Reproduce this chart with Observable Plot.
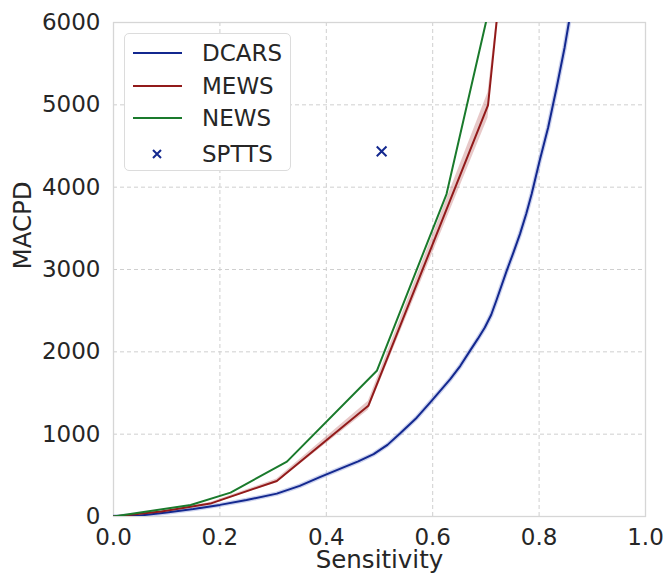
<!DOCTYPE html>
<html>
<head>
<meta charset="utf-8">
<script src="https://cdn.jsdelivr.net/npm/d3@7"></script>
<script src="https://cdn.jsdelivr.net/npm/@observablehq/plot@0.6"></script>
<style>
  body { margin: 0; background: #fff; font-family: "DejaVu Sans", sans-serif; }
  #wrap { position: relative; width: 665px; height: 573px; }
  #legend { position: absolute; left: 124px; top: 33px; width: 167px; height: 138px;
    border: 1px solid #dcdcdc; border-radius: 5px; background: #fff; box-sizing: border-box; }
  .row { position: absolute; left: 0; height: 30px; }
  .row span { position: absolute; left: 77px; top: 0; font-size: 23px; color: #262626; white-space: nowrap; line-height: 30px; }
  .row svg { position: absolute; left: 8px; top: 0; }
</style>
</head>
<body>
<div id="wrap"><div id="chart"></div><div id="legend"></div></div>
<script>
// ---- data ----
const dcarsX = [0, 0.05, 0.10, 0.15, 0.20, 0.25, 0.307, 0.35, 0.389, 0.43, 0.46, 0.489, 0.515, 0.539, 0.57, 0.595, 0.612, 0.633, 0.652, 0.670, 0.685, 0.698, 0.71, 0.72, 0.739, 0.752, 0.764, 0.776, 0.786, 0.801, 0.817, 0.833, 0.848, 0.856, 0.87];
const dcarsY = [0, 12, 48, 90, 141, 200, 278, 372, 481, 590, 670, 757, 870, 1010, 1200, 1384, 1510, 1668, 1830, 2012, 2160, 2295, 2450, 2630, 2984, 3210, 3430, 3680, 3916, 4320, 4725, 5211, 5697, 6000, 6500];

const mewsX = [0, 0.09, 0.182, 0.307, 0.479, 0.704, 0.72, 0.74];
const mewsY = [0, 60, 157, 432, 1344, 4997, 6000, 7300];
const mewsLo = [0, 52, 145, 410, 1290, 4840, 5950, 7250];
const mewsHi = [0, 68, 170, 455, 1400, 5150, 6050, 7350];

const newsX = [0, 0.145, 0.22, 0.326, 0.495, 0.626, 0.70, 0.72];
const newsY = [0, 140, 290, 667, 1770, 3916, 6000, 6560];

const spttsX = [0.504];
const spttsY = [4434];

const xTicks = [0, 0.2, 0.4, 0.6, 0.8, 1.0];
const yTicks = [0, 1000, 2000, 3000, 4000, 5000, 6000];
const xLabel = "Sensitivity";
const yLabel = "MACPD";

const series = [
  {name: "DCARS", color: "#13288f"},
  {name: "MEWS", color: "#921a1a"},
  {name: "NEWS", color: "#1a7a2c"}
];
const spttsName = "SPTTS";
const spttsColor = "#13288f";

// ---- build tables ----
const dcars = dcarsX.map((x, i) => ({x, y: dcarsY[i]}));
const mews = mewsX.map((x, i) => ({x, y: mewsY[i], lo: mewsLo[i], hi: mewsHi[i]}));
const news = newsX.map((x, i) => ({x, y: newsY[i]}));
const sptts = spttsX.map((x, i) => ({x, y: spttsY[i]}));

const chart = Plot.plot({
  width: 665,
  height: 573,
  marginLeft: 113,
  marginRight: 20,
  marginTop: 22,
  marginBottom: 57,
  style: {fontFamily: "DejaVu Sans", fontSize: "23px", color: "#262626", background: "#fff"},
  x: {domain: [0, 1]},
  y: {domain: [0, 6000]},
  marks: [
    Plot.gridX(xTicks, {stroke: "#cfcfcf", strokeOpacity: 1, strokeDasharray: "4,3"}),
    Plot.gridY(yTicks, {stroke: "#cfcfcf", strokeOpacity: 1, strokeDasharray: "4,3"}),
    Plot.frame({stroke: "#d6d6d6", strokeWidth: 1.3}),
    Plot.axisX(xTicks, {tickSize: 0, tickPadding: 12, tickFormat: d3.format(".1f"), label: null}),
    Plot.axisY(yTicks, {tickSize: 0, tickPadding: 13, tickFormat: d => String(d), label: null}),
    Plot.text([xLabel], {frameAnchor: "bottom", text: d => d, dy: 44, lineAnchor: "middle", fontSize: 24.5, fill: "#262626"}),
    Plot.text([yLabel], {frameAnchor: "left", text: d => d, dx: -90, rotate: -90, lineAnchor: "middle", fontSize: 24.5, fill: "#262626"}),
    Plot.areaY(mews, {x: "x", y1: "lo", y2: "hi", fill: "#c98585", fillOpacity: 0.45, clip: true}),
    Plot.line(dcars, {x: "x", y: "y", stroke: "#9aa6dd", strokeWidth: 4.5, strokeOpacity: 0.5, clip: true}),
    Plot.line(dcars, {x: "x", y: "y", stroke: series[0].color, strokeWidth: 2, clip: true}),
    Plot.line(mews, {x: "x", y: "y", stroke: series[1].color, strokeWidth: 2, clip: true}),
    Plot.line(news, {x: "x", y: "y", stroke: series[2].color, strokeWidth: 2, clip: true}),
    Plot.dot(sptts, {x: "x", y: "y", symbol: "times", r: 4.5, stroke: spttsColor, strokeWidth: 2})
  ]
});
document.getElementById("chart").appendChild(chart);

// ---- legend ----
const legend = document.getElementById("legend");
const rowTops = [4, 37, 69, 105];
series.forEach((s, i) => {
  const row = document.createElement("div");
  row.className = "row";
  row.style.top = rowTops[i] + "px";
  row.innerHTML = `<svg width="52" height="30"><line x1="0" x2="49" y1="15" y2="15" stroke="${s.color}" stroke-width="2"/></svg><span>${s.name}</span>`;
  legend.appendChild(row);
});
const r = document.createElement("div");
r.className = "row";
r.style.top = rowTops[3] + "px";
r.innerHTML = `<svg width="52" height="30"><path d="M20,11 L28,19 M28,11 L20,19" stroke="${spttsColor}" stroke-width="2"/></svg><span>${spttsName}</span>`;
legend.appendChild(r);
</script>
</body>
</html>
